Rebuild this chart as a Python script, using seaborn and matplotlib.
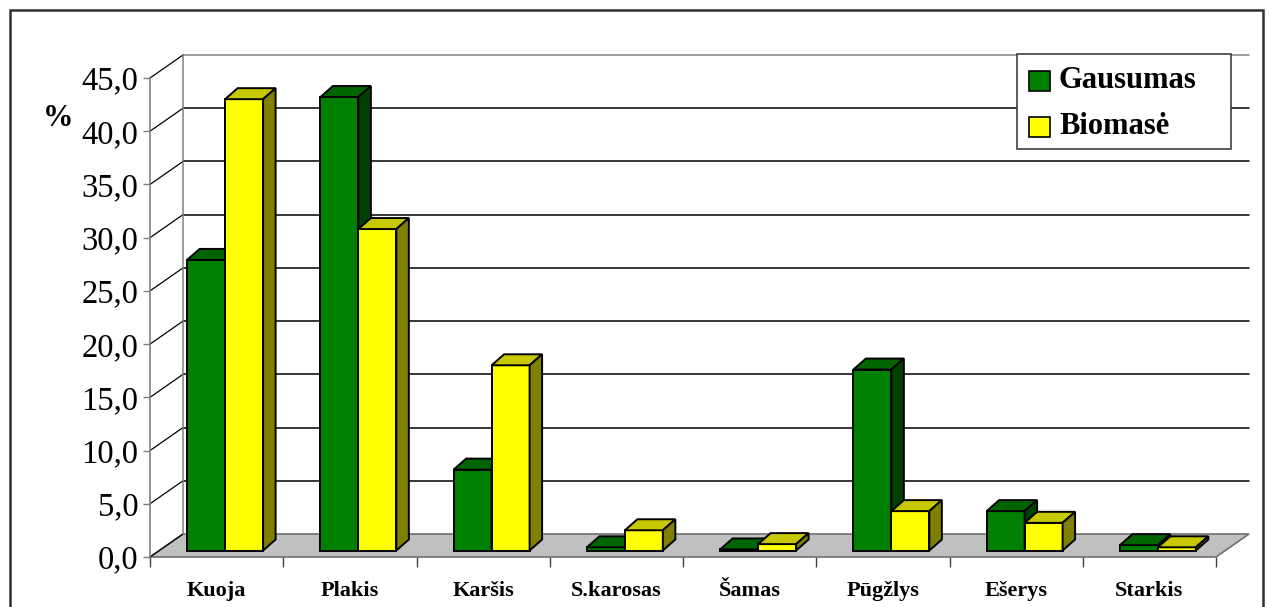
import matplotlib
matplotlib.use("Agg")
import matplotlib.pyplot as plt
import pandas as pd
import seaborn as sns
from matplotlib.patches import Polygon, Rectangle
from matplotlib.lines import Line2D

# data (%)
species = ["Kuoja", "Plakis", "Karšis", "S.karosas", "Šamas", "Pūgžlys", "Ešerys", "Starkis"]
gausumas = [27.3, 42.6, 7.6, 0.3, 0.1, 17.0, 3.7, 0.5]
biomase = [42.4, 30.2, 17.4, 1.9, 0.6, 3.7, 2.6, 0.3]
series_names = ["Gausumas", "Biomasė"]
y_ticks = [0, 5, 10, 15, 20, 25, 30, 35, 40, 45]
y_tick_labels = ["0,0", "5,0", "10,0", "15,0", "20,0", "25,0", "30,0", "35,0", "40,0", "45,0"]

df = pd.DataFrame({"Rūšis": species, "Gausumas": gausumas, "Biomasė": biomase})
df = df.melt(id_vars="Rūšis", var_name="Serija", value_name="Procentai")

front_cols = {"Gausumas": "#008000", "Biomasė": "#ffff00"}
top_cols = ["#006400", "#c8c800"]
side_cols = ["#004000", "#808000"]

sns.set_style("white")
plt.rcParams["font.family"] = ["Liberation Serif", "DejaVu Serif"]
plt.rcParams["text.color"] = "black"
plt.rcParams["xtick.color"] = "black"
plt.rcParams["ytick.color"] = "black"

W, H = 1270, 607
fig = plt.figure(figsize=(W / 100, H / 100), dpi=100)
# axes = front plane of the 3D box
ax = fig.add_axes([150 / W, (H - 557) / H, 1066 / W, 479 / H])
ax.set_xlim(-0.5, 7.5)
ax.set_ylim(0, 45)

px_x = 1066 / 8.0      # pixels per category
px_y = 479 / 45.0      # pixels per percent
wall = (33 / px_x, 23 / px_y)      # depth of the whole box
plane = (8.5 / px_x, 6.5 / px_y)   # where the bars stand
depth = (12.5 / px_x, 11 / px_y)   # depth of one bar

grid_kw = dict(clip_on=False, zorder=1)
# floor
floor = Polygon([(-0.5, 0), (7.5, 0), (7.5 + wall[0], wall[1]), (-0.5 + wall[0], wall[1])],
                closed=True, facecolor="#c0c0c0", edgecolor="#707070", lw=1.2, **grid_kw)
ax.add_patch(floor)
# back wall grid lines and left wall diagonals
for v in y_ticks:
    col = "#808080" if v in (0, 45) else "black"
    if v > 0:
        ax.add_line(Line2D([-0.5 + wall[0], 7.5 + wall[0]], [v + wall[1], v + wall[1]],
                           color=col, lw=1.1, **grid_kw))
    ax.add_line(Line2D([-0.5, -0.5 + wall[0]], [v, v + wall[1]], color="black", lw=0.9, **grid_kw))
ax.add_line(Line2D([-0.5 + wall[0]] * 2, [wall[1], 45 + wall[1]], color="#808080", lw=1.1, **grid_kw))
ax.add_line(Line2D([-0.5, -0.5], [0, 45], color="#808080", lw=1.2, **grid_kw))

sns.barplot(data=df, x="Rūšis", y="Procentai", hue="Serija", hue_order=series_names,
            palette=front_cols, width=0.57, saturation=1, edgecolor="black",
            linewidth=1.4, legend=False, ax=ax, zorder=3)

for s, cont in enumerate(ax.containers):
    z = 3 + s
    for p in cont:
        x0 = p.get_x() + plane[0]
        w = p.get_width()
        h = p.get_height()
        p.set_x(x0)
        p.set_y(plane[1])
        p.set_zorder(z)
        p.set_clip_on(False)
        b, t = plane[1], plane[1] + h
        top = Polygon([(x0, t), (x0 + w, t), (x0 + w + depth[0], t + depth[1]), (x0 + depth[0], t + depth[1])],
                      closed=True, facecolor=top_cols[s], edgecolor="black", lw=1.4, zorder=z, clip_on=False)
        side = Polygon([(x0 + w, b), (x0 + w + depth[0], b + depth[1]), (x0 + w + depth[0], t + depth[1]), (x0 + w, t)],
                       closed=True, facecolor=side_cols[s], edgecolor="black", lw=1.4, zorder=z, clip_on=False)
        ax.add_patch(top)
        ax.add_patch(side)

for sp in ax.spines.values():
    sp.set_visible(False)
ax.set_xlabel("")
ax.set_ylabel("")
ax.set_yticks(y_ticks)
ax.set_yticklabels(y_tick_labels, fontsize=23.5)
ax.tick_params(axis="y", length=5, width=1, color="#808080", labelcolor="black", pad=3.5, left=True)
ax.set_xticks(range(len(species)))
ax.set_xticklabels(species, fontsize=16, fontweight="bold")
ax.set_xticks([i - 0.5 for i in range(len(species) + 1)], minor=True)
ax.tick_params(axis="x", which="major", length=0, pad=17, labelcolor="black")
ax.tick_params(axis="x", which="minor", length=7.5, width=1, color="#404040", bottom=True)
ax.patch.set_alpha(0)

fig.text(58 / W, 1 - 118 / H, "%", fontsize=22, fontweight="bold", ha="center", va="center")

# legend box drawn by hand (wide right padding as in the original)
def fx(x):
    return x / W

def fy(y):
    return 1 - y / H

fig.add_artist(Rectangle((fx(1017), fy(149)), fx(214), 95 / H, transform=fig.transFigure,
                         facecolor="white", edgecolor="#404040", lw=1.2, zorder=10))
for k, name in enumerate(series_names):
    ytop = 71 + 46 * k
    fig.add_artist(Rectangle((fx(1029), fy(ytop + 20)), fx(21), 20 / H, transform=fig.transFigure,
                             facecolor=front_cols[name], edgecolor="black", lw=1.2, zorder=11))
    fig.text(fx(1059), fy(ytop + 10), name, fontsize=22, fontweight="bold",
             ha="left", va="center", zorder=11)

# outer chart border
fig.add_artist(Rectangle((10 / W, -0.05), 1253 / W, 1.05 - 10 / H, transform=fig.transFigure,
                         fill=False, edgecolor="#303030", lw=1.8))

fig.savefig("out.png", dpi=100)
